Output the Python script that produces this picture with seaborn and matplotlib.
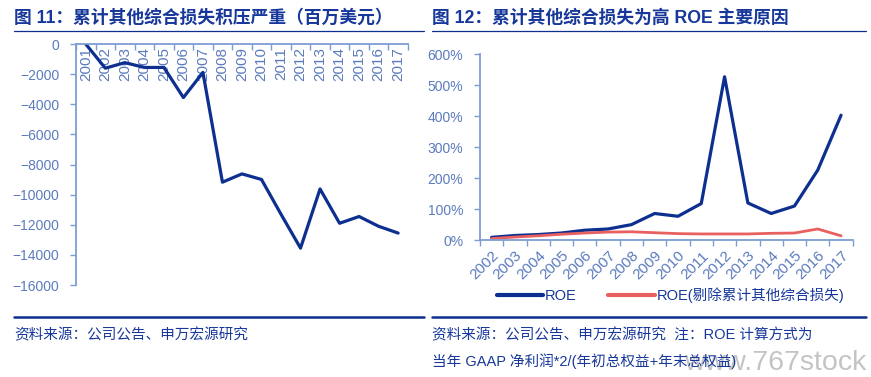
import matplotlib
matplotlib.use('Agg')
import matplotlib.pyplot as plt
import matplotlib.ticker as mticker
from matplotlib.lines import Line2D
import numpy as np
import pandas as pd
import seaborn as sns

# left chart: accumulated other comprehensive loss (USD mn)
years_left = [str(y) for y in range(2001, 2018)]
aoci_loss = [0, -1600, -1230, -1550, -1550, -3550, -1880, -9170, -8620, -8990,
             -11300, -13550, -9620, -11900, -11450, -12100, -12550]

# right chart: ROE vs ROE excluding AOCI
years_right = [str(y) for y in range(2002, 2018)]
roe = [9, 15, 18, 23, 32, 36, 50, 86, 77, 118, 527, 120, 86, 110, 226, 403]
roe_ex = [5, 10, 14, 19, 23, 26, 27, 24, 21, 20, 20, 20, 22, 23, 36, 14]
series_names = ['ROE', 'ROE(剔除累计其他综合损失)']

sns.set_theme(style='white')
plt.rcParams['font.family'] = ['Liberation Sans', 'Noto Sans CJK SC', 'DejaVu Sans']

NAVY = '#0d2f8f'
TEXT = '#17389a'
AXIS = '#7d9dd2'
TICK = '#5b7bbd'
RED = '#e8605f'

fig = plt.figure(figsize=(8.71, 3.77), dpi=100)

# ---------- left panel ----------
ax1 = fig.add_axes([0.0873, 0.244, 0.381, 0.639])
df1 = pd.DataFrame({'year': years_left, 'loss': aoci_loss})
sns.lineplot(data=df1, x='year', y='loss', ax=ax1, color=NAVY, linewidth=2.3)
n1 = len(years_left)
# category axis sits at y = 0, i.e. along the top
ax1.spines['bottom'].set_position(('data', 0))
ax1.set_xlim(-0.5, n1 - 0.5)
ax1.set_ylim(-16000, 0)
ax1.set_yticks(np.arange(-16000, 1, 2000))
ax1.set_xticks(range(n1))
ax1.set_xticklabels(years_left)
ax1.set_xticks(np.arange(-0.5, n1), minor=True)
for s in ['top', 'right']:
    ax1.spines[s].set_visible(False)
for s in ['bottom', 'left']:
    ax1.spines[s].set_color(AXIS)
    ax1.spines[s].set_linewidth(1.3)
ax1.tick_params(axis='x', which='major', length=0, pad=2, labelsize=11, labelcolor=TICK,
                labelrotation=90)
for lab in ax1.get_xticklabels():
    lab.set_va('top')
    lab.set_ha('center')
ax1.tick_params(axis='x', which='minor', direction='out', length=4, color=AXIS, width=1,
                bottom=True)
ax1.tick_params(axis='y', direction='out', length=4, color=AXIS, width=1, left=True,
                labelsize=10, labelcolor=TICK, pad=8)
ax1.set_xlabel('')
ax1.set_ylabel('')
ax1.grid(False)

# ---------- right panel ----------
ax2 = fig.add_axes([0.551, 0.363, 0.428, 0.4934])
df2 = pd.DataFrame({
    'year': years_right * 2,
    'value': roe + roe_ex,
    'series': [series_names[0]] * len(roe) + [series_names[1]] * len(roe_ex),
})
sns.lineplot(data=df2, x='year', y='value', hue='series', hue_order=series_names,
             palette=[NAVY, RED], ax=ax2, linewidth=2.3, legend=False, sort=False)
ax2.lines[1].set_linewidth(2.0)
n2 = len(years_right)
ax2.set_xlim(-0.5, n2 - 0.5)
ax2.set_ylim(0, 600)
ax2.set_yticks(np.arange(0, 601, 100))
ax2.yaxis.set_major_formatter(mticker.FuncFormatter(lambda v, p: f'{v:.0f}%'))
ax2.set_xticks(range(n2))
ax2.set_xticklabels(years_right, rotation=45, ha='right', rotation_mode='anchor')
ax2.set_xticks(np.arange(-0.5, n2), minor=True)
for s in ['top', 'right']:
    ax2.spines[s].set_visible(False)
for s in ['bottom', 'left']:
    ax2.spines[s].set_color(AXIS)
    ax2.spines[s].set_linewidth(1.3)
ax2.tick_params(axis='x', which='major', length=0, pad=6, labelsize=11, labelcolor=TICK)
ax2.tick_params(axis='x', which='minor', direction='out', length=4, color=AXIS, width=1,
                bottom=True)
ax2.tick_params(axis='y', direction='out', length=4, color=AXIS, width=1, left=True,
                labelsize=10, labelcolor=TICK, pad=8)
ax2.set_xlabel('')
ax2.set_ylabel('')
ax2.grid(False)

handles = [Line2D([], [], color=NAVY, linewidth=3),
           Line2D([], [], color=RED, linewidth=3)]
leg = fig.legend(handles, series_names, loc='center left', bbox_to_anchor=(0.555, 0.218),
                 ncol=2, frameon=False, fontsize=10.5, handlelength=3.2,
                 handletextpad=0.1, columnspacing=2.2)
for t in leg.get_texts():
    t.set_color(TEXT)

# ---------- titles, rules and notes ----------
fig.text(0.016, 0.953, '图 11：累计其他综合损失积压严重（百万美元）', fontsize=12.8,
         fontweight='bold', color=TEXT, va='center', ha='left')
fig.text(0.496, 0.953, '图 12：累计其他综合损失为高 ROE 主要原因', fontsize=12.8,
         fontweight='bold', color=TEXT, va='center', ha='left')

for x0, x1 in [(14, 424), (432, 866)]:
    fig.add_artist(Line2D([x0 / 871, x1 / 871], [1 - 30.5 / 377] * 2, color=NAVY,
                          linewidth=0.9, transform=fig.transFigure))
    fig.add_artist(Line2D([x0 / 871, x1 / 871], [1 - 317 / 377] * 2, color=NAVY,
                          linewidth=1.8, transform=fig.transFigure))

fig.text(0.016, 1 - 335 / 377, '资料来源：公司公告、申万宏源研究', fontsize=10.5,
         color=TEXT, va='center', ha='left')
fig.text(0.496, 1 - 335 / 377, '资料来源：公司公告、申万宏源研究  注：ROE 计算方式为',
         fontsize=10.5, color=TEXT, va='center', ha='left')

fig.text(0.995, 1 - 370 / 377, 'www.767stock', fontsize=20.5, color='#c4c4c4',
         va='baseline', ha='right', zorder=0)
fig.text(0.496, 1 - 361 / 377, '当年 GAAP 净利润*2/(年初总权益+年末总权益)',
         fontsize=10.5, color=TEXT, va='center', ha='left', zorder=2)

fig.savefig('out.png', dpi=100)
